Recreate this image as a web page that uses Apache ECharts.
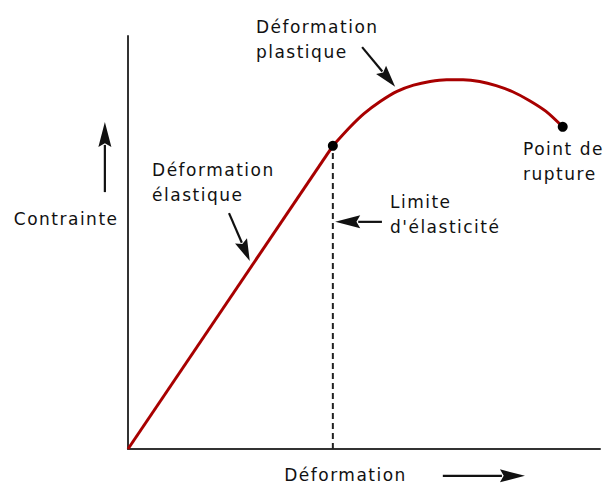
<!DOCTYPE html>
<html>
<head>
<meta charset="utf-8">
<script src="https://cdn.jsdelivr.net/npm/echarts@6/dist/echarts.min.js"></script>
<style>
  html, body { margin: 0; padding: 0; background: #ffffff; }
  #chart { width: 604px; height: 485px; }
  /* the annotation face is set wide, with loose tracking */
  #chart svg text { letter-spacing: 1.5px; }
</style>
</head>
<body>
<div id="chart"></div>
<script>
// Stress–strain curve (arbitrary units, 0–100 on both axes)
const strain = [0, 43.4, 47.0, 50.0, 53.5, 57.0, 60.5, 64.0, 67.5, 71.0, 74.5, 78.0, 81.5, 85.0, 88.5, 92.1];
const stress = [0, 73.4, 77.9, 81.2, 84.2, 86.6, 88.1, 89.0, 89.4, 89.4, 89.0, 88.0, 86.5, 84.4, 81.8, 78.0];
const yieldIndex = 1;                 // limit of the elastic (linear) region
const ruptureIndex = strain.length - 1;

// Annotation texts and their anchors (left edge, baseline) in data units
const labelTexts = {
  plastic: ['Déformation', 'plastique'],
  elastic: ['Déformation', 'élastique'],
  yieldLimit: ['Limite', "d'élasticité"],
  rupture: ['Point de', 'rupture'],
  yName: ['Contrainte'],
  xName: ['Déformation']
};
const labelAnchors = {
  plastic: [27.1, 100.7],
  elastic: [5.1, 66.1],
  yieldLimit: [55.5, 58.4],
  rupture: [83.7, 71.2],
  yName: [-24.2, 54.2],
  xName: [33.1, -7.7]
};
// Pointer arrows: [tail, tip] in data units
const arrows = [
  [[49.6, 97.3], [56.6, 87.7]],   // plastic deformation
  [[21.4, 57.1], [25.8, 45.5]],   // elastic deformation
  [[53.8, 55.0], [43.9, 55.0]],   // yield limit
  [[-4.9, 62.2], [-4.9, 79.2]],   // stress direction
  [[66.7, -6.5], [84.1, -6.5]]    // strain direction
];

const RED = '#a80000';
const INK = '#111111';
const FONT = 'DejaVu Sans';

const pts = strain.map((x, i) => [x, stress[i]]);

const chart = echarts.init(document.getElementById('chart'), null, { renderer: 'svg' });

const axisCommon = {
  type: 'value',
  min: 0,
  max: 100,
  axisLine: { show: true, lineStyle: { color: '#333333', width: 2 } },
  axisTick: { show: false },
  axisLabel: { show: false },
  splitLine: { show: false }
};

chart.setOption({
  backgroundColor: '#ffffff',
  animation: false,
  grid: { left: 128, right: 4, top: 36, bottom: 36 },
  xAxis: Object.assign({}, axisCommon),
  yAxis: Object.assign({}, axisCommon),
  series: [
    {
      // dashed drop line at the yield point
      type: 'line',
      data: [[strain[yieldIndex], 0], pts[yieldIndex]],
      symbol: 'none',
      lineStyle: { color: '#222222', width: 2, type: [6, 4] },
      z: 1
    },
    {
      // elastic (linear) part
      type: 'line',
      data: pts.slice(0, yieldIndex + 1),
      symbol: 'none',
      lineStyle: { color: RED, width: 3 },
      z: 2
    },
    {
      // plastic part up to rupture
      type: 'line',
      data: pts.slice(yieldIndex),
      smooth: 0.3,
      symbol: 'none',
      lineStyle: { color: RED, width: 3 },
      z: 2
    },
    {
      type: 'scatter',
      data: [pts[yieldIndex], pts[ruptureIndex]],
      symbolSize: 10,
      itemStyle: { color: '#000000', opacity: 1 },
      z: 3
    }
  ]
});

function toPx(p) {
  return chart.convertToPixel({ gridIndex: 0 }, p);
}

function arrowGraphic(tail, tip, headLen, headHalf) {
  const a = toPx(tail), b = toPx(tip);
  const dx = b[0] - a[0], dy = b[1] - a[1];
  const len = Math.hypot(dx, dy);
  const ux = dx / len, uy = dy / len;
  const nx = -uy, ny = ux;
  const bx = b[0] - ux * headLen, by = b[1] - uy * headLen;
  const nb = b[0] - ux * headLen * 0.85, nby = b[1] - uy * headLen * 0.85;
  return [
    {
      type: 'line',
      shape: { x1: a[0], y1: a[1], x2: bx + ux * 2, y2: by + uy * 2 },
      style: { stroke: INK, lineWidth: 2.2 },
      silent: true
    },
    {
      type: 'polygon',
      shape: {
        points: [
          [b[0], b[1]],
          [bx + nx * headHalf, by + ny * headHalf],
          [nb, nby],
          [bx - nx * headHalf, by - ny * headHalf]
        ]
      },
      style: { fill: INK },
      silent: true
    }
  ];
}

const LINE_H = 25;
const graphics = [];
Object.keys(labelTexts).forEach(key => {
  const p = toPx(labelAnchors[key]);
  labelTexts[key].forEach((t, i) => {
    graphics.push({
      type: 'text',
      x: p[0],
      y: p[1] - 6 + i * LINE_H,
      style: {
        text: t,
        fill: INK,
        font: '17px "' + FONT + '"',
        textAlign: 'left',
        textVerticalAlign: 'middle'
      },
      silent: true
    });
  });
});
arrows.forEach((ar, i) => {
  const straight = i >= 2;
  graphics.push(...arrowGraphic(ar[0], ar[1], straight ? 25 : 22, 6.5));
});

chart.setOption({ graphic: graphics });
</script>
</body>
</html>
